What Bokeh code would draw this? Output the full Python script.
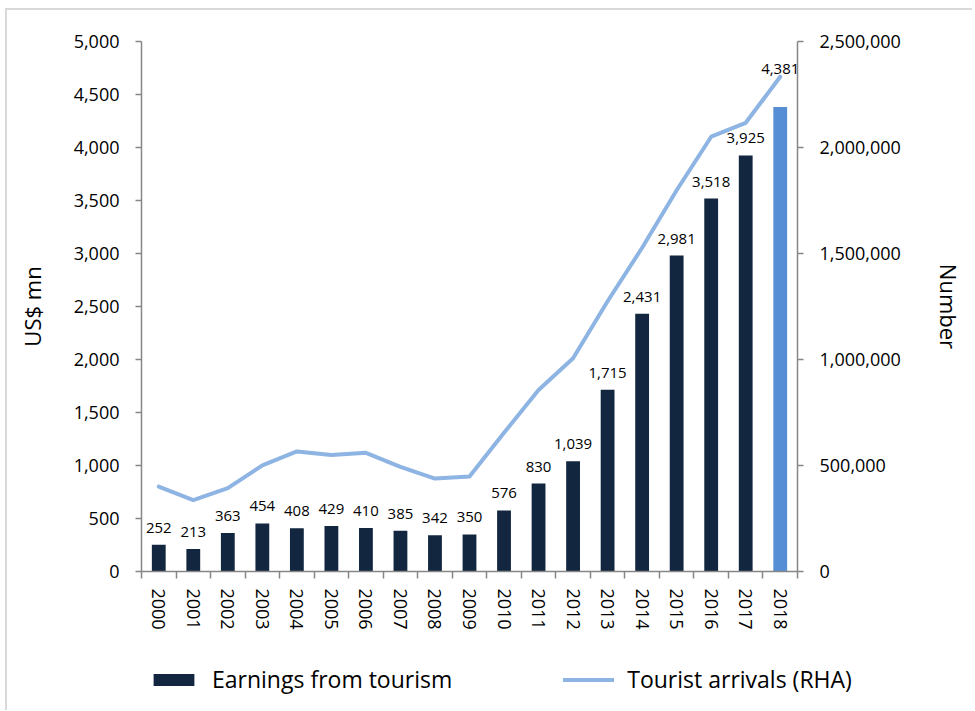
from bokeh.plotting import figure
from bokeh.layouts import column
from bokeh.models import (Range1d, LinearAxis, FixedTicker, NumeralTickFormatter,
                          Legend, LegendItem, ColumnDataSource, LabelSet)
from bokeh.core.properties import value
from bokeh.embed import file_html
from bokeh.resources import INLINE

# ---- data ----
years = [2000, 2001, 2002, 2003, 2004, 2005, 2006, 2007, 2008, 2009,
         2010, 2011, 2012, 2013, 2014, 2015, 2016, 2017, 2018]
earnings = [252, 213, 363, 454, 408, 429, 410, 385, 342, 350,
            576, 830, 1039, 1715, 2431, 2981, 3518, 3925, 4381]
arrivals = [400414, 336794, 393171, 500642, 566202, 549308, 559603, 494008, 438475, 447890,
            654476, 855975, 1005605, 1274593, 1527153, 1798380, 2050832, 2116407, 2333796]
left_ticks = list(range(0, 5001, 500))
right_ticks = list(range(0, 2500001, 500000))
series_names = ["Earnings from tourism", "Tourist arrivals (RHA)"]

FONT = "Open Sans"
DARK = "#12263f"
HIGHLIGHT = "#558ed5"
LINE = "#8db4e2"
AXIS = "#868686"

n = len(years)
idx = list(range(n))
colors = [DARK] * (n - 1) + [HIGHLIGHT]
label_off = [17] * (n - 1) + [38]

src = ColumnDataSource(dict(
    x=idx, top=earnings, color=colors,
    label=[f"{v:,}" for v in earnings], yoff=label_off,
))

W = 965
p = figure(width=W, height=641, output_backend="svg", toolbar_location=None,
           x_range=Range1d(-0.5, n - 0.5), y_range=Range1d(0, 5000),
           min_border_left=134, min_border_top=31, min_border_right=175,
           min_border_bottom=80)
p.outline_line_color = None
p.xgrid.visible = False
p.ygrid.visible = False
p.background_fill_color = "white"
p.border_fill_color = "white"

p.extra_y_ranges = {"right": Range1d(0, 2500000)}

p.vbar(x="x", top="top", width=0.4, fill_color="color", line_color=None, source=src)
p.line(x=idx, y=arrivals, y_range_name="right", line_width=4,
       line_color=LINE, line_join="round", line_cap="round")

labels = LabelSet(x="x", y="top", text="label", y_offset="yoff", source=src,
                  text_align="center", text_baseline="middle",
                  text_font=value(FONT), text_font_size=value("15px"), text_color="black")
p.add_layout(labels)

# x axis
xa = p.xaxis[0]
xa.ticker = FixedTicker(ticks=idx, minor_ticks=[i - 0.5 for i in range(n + 1)])
xa.major_label_overrides = {i: str(y) for i, y in zip(idx, years)}
xa.major_label_orientation = "vertical"
xa.major_tick_line_color = None
xa.major_tick_out = 7
xa.major_tick_in = 0
xa.minor_tick_out = 7
xa.minor_tick_in = 0
xa.major_label_standoff = 10

# left axis
ya = p.yaxis[0]
ya.ticker = FixedTicker(ticks=left_ticks)
ya.formatter = NumeralTickFormatter(format="0,0")
ya.axis_label = "US$ mn"
ya.major_label_standoff = 16
ya.axis_label_standoff = 24

# right axis
ra = LinearAxis(y_range_name="right", ticker=FixedTicker(ticks=right_ticks),
                formatter=NumeralTickFormatter(format="0,0"), axis_label="Number")
ra.major_label_standoff = 16
ra.axis_label_standoff = 30
p.add_layout(ra, "right")

for ax in [xa, ya, ra]:
    ax.axis_line_color = AXIS
    ax.axis_line_width = 1.5
    ax.major_label_text_font = FONT
    ax.major_label_text_font_size = "18px"
    ax.major_label_text_color = "black"
    ax.axis_label_text_font = FONT
    ax.axis_label_text_font_size = "22px"
    ax.axis_label_text_font_style = "normal"
    ax.axis_label_text_color = "black"
xa.minor_tick_line_color = AXIS
xa.minor_tick_line_width = 1.5
for ax in [ya, ra]:
    ax.minor_tick_line_color = None
    ax.major_tick_line_color = AXIS
    ax.major_tick_line_width = 1.5
    ax.major_tick_out = 6
    ax.major_tick_in = 0

# ---- legend strip below the chart ----
NAN = float("nan")
lg = figure(width=W, height=59, output_backend="svg", toolbar_location=None,
            x_range=Range1d(0, 1), y_range=Range1d(0, 1),
            x_axis_location=None, y_axis_location=None, min_border=0)
if hasattr(lg, "frame_align"):
    lg.frame_align = False
    p.frame_align = False
lg.outline_line_color = None
lg.xgrid.visible = False
lg.ygrid.visible = False
lg_bar = lg.vbar(x=[NAN], top=[NAN], width=0.4, fill_color=DARK, line_color=None)
lg_line = lg.line(x=[NAN], y=[NAN], line_width=4, line_color=LINE, line_cap="round")
legend = Legend(items=[
    LegendItem(label=series_names[0], renderers=[lg_bar]),
    LegendItem(label=series_names[1], renderers=[lg_line]),
], orientation="horizontal", location=(141, 15),
    label_text_font=FONT, label_text_font_size="23px", label_text_color="black",
    glyph_width=51, glyph_height=15, label_standoff=13, spacing=111,
    border_line_color=None, background_fill_alpha=0, margin=0, padding=0)
lg.add_layout(legend, "center")

layout = column(p, lg, spacing=0)
layout.styles = {"border-left": "2px solid #d9d9d9", "border-top": "2px solid #d9d9d9",
                 "margin-left": "5px", "margin-top": "8px"}

open("out.html", "w").write(file_html(layout, INLINE))
